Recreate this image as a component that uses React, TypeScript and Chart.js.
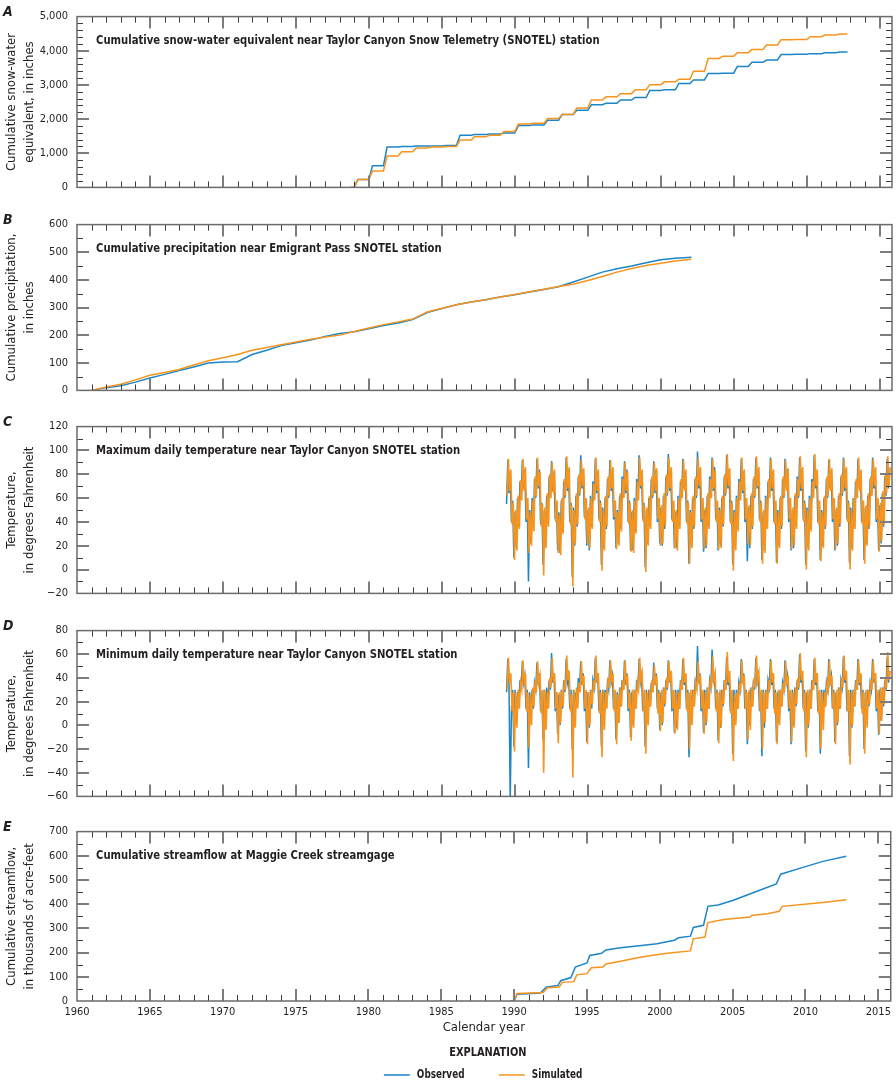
import React, { useEffect, useRef } from 'react';
import { Chart, registerables } from 'chart.js';

Chart.register(...registerables);

const FONT = "'DejaVu Sans Condensed', 'Liberation Sans Narrow', 'DejaVu Sans', sans-serif";
const TEXT = '#231f20';
const BLUE = '#1b85c8';
const ORANGE = '#f7941d';

// ---------- shared x axis ----------
const xMin = 1960;
const xMax = 2015.85;
const xTickYears = [1960, 1965, 1970, 1975, 1980, 1985, 1990, 1995, 2000, 2005, 2010, 2015];

// ---------- A: cumulative snow-water equivalent ----------
const sweStart = 1978.75;
const sweEnd = 2012.8;
const sweYears = [1979, 1980, 1981, 1982, 1983, 1984, 1985, 1986, 1987, 1988, 1989, 1990, 1991, 1992, 1993, 1994, 1995,
  1996, 1997, 1998, 1999, 2000, 2001, 2002, 2003, 2004, 2005, 2006, 2007, 2008, 2009, 2010, 2011, 2012];
const sweObs = [233, 637, 1180, 1200, 1210, 1215, 1225, 1527, 1545, 1560, 1590, 1810, 1830, 1967, 2136, 2257, 2420,
  2463, 2557, 2632, 2838, 2857, 3044, 3147, 3335, 3345, 3541, 3663, 3729, 3888, 3900, 3916, 3944, 3963];
const sweSim = [233, 480, 918, 1040, 1150, 1180, 1200, 1386, 1480, 1527, 1640, 1855, 1880, 2014, 2136, 2323, 2557,
  2651, 2745, 2857, 3007, 3091, 3166, 3400, 3775, 3841, 3944, 4038, 4169, 4319, 4330, 4413, 4460, 4488];
const sweTicks = [0, 1000, 2000, 3000, 4000, 5000];

// ---------- B: cumulative precipitation ----------
const precipYears = [1961, 1962, 1963, 1964, 1965, 1966, 1967, 1968, 1969, 1970, 1971, 1972, 1973, 1974, 1975, 1976,
  1977, 1978, 1979, 1980, 1981, 1982, 1983, 1984, 1985, 1986, 1987, 1988, 1989, 1990, 1991, 1992, 1993, 1994, 1995,
  1996, 1997, 1998, 1999, 2000, 2001, 2002.1];
const precipObs = [0, 10, 17, 30, 45, 58, 72, 85, 99, 103, 104, 130, 145, 162, 172, 182, 195, 206, 212, 223, 235, 244,
  256, 282, 296, 310, 320, 328, 338, 346, 356, 365, 375, 392, 410, 428, 440, 450, 462, 473, 478, 482];
const precipSim = [0, 12, 22, 38, 55, 65, 76, 92, 107, 118, 130, 145, 155, 165, 175, 185, 193, 200, 213, 226, 238, 248,
  258, 284, 297, 310, 320, 328, 338, 347, 357, 366, 376, 384, 398, 412, 428, 441, 452, 460, 468, 475];
const precipTicks = [0, 100, 200, 300, 400, 500, 600];

// ---------- C / D: daily temperature (monthly samples, first row starts June 1989) ----------
const tempFirstYear = 1989;
const tempFirstMonth = 5;
const obsSampleDay = 0.25; // fraction of the month at which the observed sample is taken
const simSampleDay = 0.75; // fraction of the month at which the simulated sample is taken
const maxTempObs = [
  [55, 92, 64, 82, 40, 58, 10],
  [48, 18, 60, 36, 74, 60, 92, 68, 84, 40, 58, -10],
  [50, 22, 60, 34, 76, 60, 93, 68, 84, 38, 56, 4],
  [50, 20, 62, 38, 78, 62, 91, 66, 82, 42, 56, 16],
  [48, 14, 58, 32, 74, 60, 94, 66, 84, 40, 56, -6],
  [52, 20, 62, 36, 78, 62, 96, 68, 84, 44, 58, 20],
  [50, 16, 62, 36, 74, 60, 93, 64, 82, 42, 58, 4],
  [52, 18, 60, 34, 76, 60, 92, 66, 84, 42, 56, 18],
  [50, 22, 62, 34, 78, 62, 91, 64, 84, 40, 58, 16],
  [48, 16, 60, 32, 76, 60, 96, 68, 82, 42, 56, 2],
  [50, 22, 60, 36, 76, 60, 91, 64, 84, 40, 58, 22],
  [52, 20, 62, 34, 78, 62, 97, 66, 84, 42, 56, 18],
  [48, 18, 62, 36, 74, 62, 93, 68, 82, 40, 58, 5],
  [50, 20, 60, 34, 76, 60, 99, 68, 84, 40, 58, 15],
  [50, 18, 62, 36, 78, 62, 94, 66, 86, 42, 56, 16],
  [52, 20, 60, 36, 78, 62, 96, 68, 84, 40, 58, 4],
  [50, 18, 62, 34, 76, 60, 93, 64, 82, 40, 58, 7],
  [52, 18, 62, 34, 76, 60, 94, 68, 84, 42, 58, 8],
  [48, 16, 62, 36, 74, 62, 94, 66, 82, 40, 56, 6],
  [50, 20, 60, 34, 76, 60, 93, 68, 84, 40, 58, 16],
  [50, 18, 62, 36, 78, 60, 94, 66, 84, 42, 58, 4],
  [52, 18, 62, 34, 76, 62, 96, 68, 82, 40, 56, 8],
  [50, 20, 60, 34, 76, 60, 92, 68, 84, 40, 58, 16],
  [50, 20, 62, 36, 78, 62, 94, 66, 84, 42, 58, 6],
  [52, 18, 60, 36, 74, 60, 93, 68, 82, 40, 56, 8],
  [52, 22, 62, 34, 76, 62, 94, 68, 84, 40, 58, 16],
  [54, 22, 64, 36, 78, 62, 93, 68, 84],
];
const maxTempSim = [
  [62, 93, 66, 84, 38, 56, 8],
  [50, 16, 62, 34, 75, 58, 93, 66, 86, 42, 60, 14],
  [48, 20, 58, 32, 78, 62, 94, 70, 82, 36, 55, -5],
  [52, 18, 64, 36, 80, 60, 90, 64, 84, 40, 58, 14],
  [46, 12, 60, 30, 76, 62, 95, 68, 86, 38, 54, -14],
  [50, 22, 64, 38, 80, 64, 92, 70, 85, 42, 60, 22],
  [52, 18, 60, 34, 72, 58, 94, 66, 84, 40, 56, -1],
  [50, 16, 62, 36, 78, 62, 92, 68, 86, 44, 58, 17],
  [48, 20, 64, 32, 76, 60, 90, 66, 82, 38, 56, 15],
  [50, 14, 58, 30, 74, 58, 94, 70, 84, 40, 54, -2],
  [52, 20, 62, 34, 78, 62, 90, 66, 85, 42, 60, 20],
  [54, 22, 64, 36, 80, 64, 94, 68, 86, 40, 58, 18],
  [50, 16, 60, 34, 76, 60, 92, 66, 84, 38, 56, 5],
  [48, 18, 62, 36, 78, 62, 94, 70, 86, 42, 60, 17],
  [52, 20, 64, 34, 76, 60, 93, 68, 84, 40, 58, 17],
  [50, 18, 62, 38, 80, 64, 97, 70, 85, 38, 56, -1],
  [48, 16, 60, 32, 74, 58, 94, 66, 84, 42, 60, 22],
  [54, 20, 64, 36, 78, 62, 95, 70, 86, 40, 56, 5],
  [50, 14, 60, 34, 76, 60, 93, 68, 84, 38, 58, 5],
  [48, 18, 62, 36, 78, 62, 92, 66, 85, 42, 60, 17],
  [52, 20, 64, 34, 76, 62, 95, 68, 86, 40, 56, 0],
  [50, 16, 60, 32, 74, 60, 97, 70, 84, 38, 58, 7],
  [48, 18, 62, 36, 78, 62, 93, 66, 85, 42, 60, 17],
  [52, 22, 64, 38, 80, 64, 93, 68, 86, 40, 56, 0],
  [50, 16, 60, 34, 76, 60, 94, 66, 84, 38, 58, 5],
  [54, 20, 64, 36, 78, 62, 93, 70, 86, 42, 60, 15],
  [56, 24, 66, 38, 80, 64, 95, 70, 86],
];
const maxTempTicks = [-20, 0, 20, 40, 60, 80, 100, 120];

const minTempObs = [
  [28, 56, 34, -65, 14, 30, -18],
  [30, 0, 28, 16, 38, 30, 54, 36, 42, 14, 30, -36],
  [28, 2, 30, 14, 36, 30, 53, 34, 44, 12, 28, -12],
  [30, -2, 32, 16, 38, 30, 61, 36, 44, 12, 28, -7],
  [26, 0, 30, 14, 38, 28, 56, 36, 42, 14, 30, -20],
  [30, 2, 28, 16, 40, 30, 54, 34, 44, 12, 28, -14],
  [28, -2, 30, 14, 38, 32, 57, 36, 44, 12, 30, -18],
  [30, 0, 30, 16, 36, 30, 55, 36, 42, 14, 28, -12],
  [28, 2, 32, 16, 38, 30, 55, 34, 44, 12, 30, -10],
  [28, 0, 30, 14, 38, 30, 56, 36, 42, 12, 28, -18],
  [30, 2, 30, 16, 36, 28, 53, 34, 44, 14, 30, -4],
  [28, 0, 32, 16, 38, 30, 55, 36, 44, 12, 28, -6],
  [30, -2, 30, 14, 38, 30, 56, 34, 42, 14, 30, -27],
  [28, 2, 30, 16, 36, 30, 67, 36, 44, 12, 28, -6],
  [30, 0, 32, 14, 38, 32, 64, 36, 44, 14, 30, -13],
  [28, -2, 30, 16, 38, 30, 58, 34, 42, 12, 28, -24],
  [30, 2, 30, 14, 36, 30, 56, 36, 44, 14, 30, -16],
  [28, 0, 32, 16, 38, 30, 57, 36, 42, 12, 28, -26],
  [30, -2, 30, 14, 38, 32, 56, 34, 44, 14, 30, -14],
  [28, 2, 30, 16, 36, 30, 55, 36, 42, 12, 28, -16],
  [30, 0, 32, 16, 38, 30, 60, 36, 44, 14, 30, -22],
  [28, -2, 30, 14, 38, 30, 56, 34, 44, 12, 28, -24],
  [30, 2, 30, 16, 36, 30, 56, 36, 42, 14, 30, -14],
  [28, 0, 32, 14, 38, 32, 58, 36, 44, 12, 28, -26],
  [30, -2, 30, 16, 38, 30, 56, 34, 42, 14, 30, -20],
  [28, 2, 30, 16, 36, 30, 56, 36, 44, 12, 28, -8],
  [30, 4, 32, 16, 38, 30, 58, 36, 44],
];
const minTempSim = [
  [30, 57, 36, 44, 12, 28, -22],
  [28, -2, 30, 14, 36, 30, 55, 34, 44, 12, 28, -19],
  [26, 0, 32, 16, 38, 28, 54, 36, 42, 10, 30, -40],
  [30, -4, 28, 14, 40, 32, 57, 36, 44, 14, 28, -15],
  [28, 2, 30, 16, 38, 30, 59, 38, 46, 12, 26, -44],
  [30, -2, 32, 14, 36, 28, 54, 34, 42, 14, 30, -16],
  [28, 0, 30, 18, 38, 30, 59, 36, 44, 10, 28, -27],
  [30, -4, 28, 14, 40, 32, 55, 36, 44, 12, 30, -16],
  [26, 2, 32, 16, 38, 30, 55, 34, 42, 14, 28, -13],
  [30, -2, 30, 14, 36, 30, 57, 38, 44, 12, 30, -24],
  [28, 0, 30, 16, 38, 28, 51, 34, 42, 10, 28, -5],
  [30, 2, 32, 18, 40, 32, 54, 36, 46, 14, 30, -7],
  [28, -4, 28, 14, 38, 30, 57, 36, 44, 12, 28, -20],
  [30, 0, 30, 16, 36, 30, 54, 34, 42, 14, 30, -7],
  [28, 2, 32, 14, 40, 32, 58, 38, 44, 12, 28, -15],
  [30, -2, 30, 18, 38, 30, 62, 36, 46, 10, 30, -30],
  [26, 0, 28, 14, 36, 28, 55, 34, 42, 14, 28, -12],
  [30, -4, 32, 16, 40, 32, 59, 38, 44, 12, 30, -20],
  [28, 2, 30, 14, 38, 30, 55, 36, 44, 10, 28, -16],
  [30, 0, 30, 16, 36, 28, 54, 34, 42, 14, 30, -14],
  [28, -2, 32, 18, 40, 32, 61, 38, 46, 12, 28, -27],
  [30, 0, 30, 14, 38, 30, 57, 36, 44, 10, 30, -20],
  [28, -4, 28, 16, 36, 30, 55, 34, 42, 14, 28, -16],
  [30, 2, 32, 14, 40, 32, 59, 38, 46, 12, 30, -33],
  [28, 0, 30, 16, 38, 30, 55, 36, 44, 10, 28, -24],
  [30, -2, 30, 18, 38, 30, 55, 36, 44, 14, 30, -7],
  [32, 4, 32, 18, 40, 32, 62, 38, 46],
];
const minTempTicks = [-60, -40, -20, 0, 20, 40, 60, 80];

// ---------- E: cumulative streamflow (thousands of acre-feet) ----------
const flowObsYears = [1989.75, 1990.0, 1990.2, 1991.0, 1991.8, 1992.2, 1993.0, 1993.2, 1993.9, 1994.2, 1995.0, 1995.2,
  1996.0, 1996.3, 1997.3, 1998.6, 1999.8, 2001.0, 2001.3, 2002.1, 2002.3, 2003.0, 2003.3, 2004.0, 2005.0, 2006.4,
  2008.0, 2008.3, 2009.6, 2011.2, 2012.8];
const flowObs = [0, 0, 28, 30, 33, 57, 64, 84, 97, 140, 157, 188, 197, 211, 220, 228, 237, 251, 261, 268, 304, 313,
  391, 397, 415, 447, 484, 524, 548, 577, 598];
const flowSimYears = [1989.75, 1990.0, 1990.2, 1992.0, 1992.3, 1993.1, 1993.3, 1994.1, 1994.3, 1995.0, 1995.3, 1996.1,
  1996.3, 1997.3, 1998.3, 1999.4, 2000.5, 2002.1, 2002.3, 2003.1, 2003.3, 2004.4, 2006.2, 2006.3, 2007.4, 2008.2,
  2008.4, 2011.2, 2012.8];
const flowSim = [0, 0, 31, 35, 55, 58, 77, 80, 108, 113, 137, 140, 153, 164, 177, 188, 197, 207, 257, 264, 324, 337,
  347, 353, 361, 371, 391, 407, 418];
const flowTicks = [0, 100, 200, 300, 400, 500, 600, 700];

const seriesLabels = ['Observed', 'Simulated'];

// ---------- builders ----------
type Pt = { x: number; y: number };
function stepPoints(start: number, years: number[], vals: number[], end: number): Pt[] {
  const pts: Pt[] = [{ x: start, y: 0 }];
  let prev = 0;
  years.forEach((yr, i) => {
    pts.push({ x: yr, y: prev });
    pts.push({ x: yr + 0.25, y: vals[i] });
    prev = vals[i];
  });
  pts.push({ x: end, y: prev });
  return pts;
}
function pairPoints(xs: number[], ys: number[]): Pt[] {
  return xs.map((x, i) => ({ x, y: ys[i] }));
}
function tempPoints(rows: number[][], day: number): Pt[] {
  const pts: Pt[] = [];
  rows.forEach((row, r) => {
    const year = tempFirstYear + r;
    const m0 = r === 0 ? tempFirstMonth : 0;
    row.forEach((v, k) => pts.push({ x: year + (m0 + k + day) / 12, y: v }));
  });
  return pts;
}

type PanelCfg = {
  letter: string; title: string; yTitle: string[];
  chartTop: number; chartBottom: number;
  yMin: number; yMax: number; yTicks: number[]; yMinor: number;
  obs: Pt[]; sim: Pt[]; obsWidth: number; simWidth: number; bottomPanel: boolean;
};

const panels: PanelCfg[] = [
  {
    letter: 'A', title: 'Cumulative snow-water equivalent near Taylor Canyon Snow Telemetry (SNOTEL) station',
    yTitle: ['Cumulative snow-water', 'equivalent, in inches'], chartTop: 13, chartBottom: 191,
    yMin: 0, yMax: 5000, yTicks: sweTicks, yMinor: 200,
    obs: stepPoints(sweStart, sweYears, sweObs, sweEnd), sim: stepPoints(sweStart, sweYears, sweSim, sweEnd),
    obsWidth: 1.5, simWidth: 1.5, bottomPanel: false,
  },
  {
    letter: 'B', title: 'Cumulative precipitation near Emigrant Pass SNOTEL station',
    yTitle: ['Cumulative precipitation,', 'in inches'], chartTop: 221, chartBottom: 394,
    yMin: 0, yMax: 600, yTicks: precipTicks, yMinor: 50,
    obs: pairPoints(precipYears, precipObs), sim: pairPoints(precipYears, precipSim),
    obsWidth: 1.5, simWidth: 1.5, bottomPanel: false,
  },
  {
    letter: 'C', title: 'Maximum daily temperature near Taylor Canyon SNOTEL station',
    yTitle: ['Temperature,', 'in degrees Fahrenheit'], chartTop: 423, chartBottom: 597,
    yMin: -20, yMax: 120, yTicks: maxTempTicks, yMinor: 10,
    obs: tempPoints(maxTempObs, obsSampleDay), sim: tempPoints(maxTempSim, simSampleDay),
    obsWidth: 1.5, simWidth: 1.6, bottomPanel: false,
  },
  {
    letter: 'D', title: 'Minimum daily temperature near Taylor Canyon SNOTEL station',
    yTitle: ['Temperature,', 'in degrees Fahrenheit'], chartTop: 627, chartBottom: 800,
    yMin: -60, yMax: 80, yTicks: minTempTicks, yMinor: 10,
    obs: tempPoints(minTempObs, obsSampleDay), sim: tempPoints(minTempSim, simSampleDay),
    obsWidth: 1.5, simWidth: 1.6, bottomPanel: false,
  },
  {
    letter: 'E', title: 'Cumulative streamflow at Maggie Creek streamgage',
    yTitle: ['Cumulative streamflow,', 'in thousands of acre-feet'], chartTop: 828, chartBottom: 1001,
    yMin: 0, yMax: 700, yTicks: flowTicks, yMinor: 50,
    obs: pairPoints(flowObsYears, flowObs), sim: pairPoints(flowSimYears, flowSim),
    obsWidth: 1.5, simWidth: 1.5, bottomPanel: true,
  },
];

// ---------- plugins ----------
function condensedText(ctx: CanvasRenderingContext2D, text: string, x: number, y: number, sx: number, align: 'left' | 'center') {
  const w = ctx.measureText(text).width * sx;
  ctx.save();
  ctx.translate(align === 'center' ? x - w / 2 : x, y);
  ctx.scale(sx, 1);
  ctx.textAlign = 'left';
  ctx.fillText(text, 0, 0);
  ctx.restore();
}

const panelTextPlugin = {
  id: 'panelText',
  afterDraw(chart: any, _a: any, opts: any) {
    const { ctx, chartArea } = chart;
    ctx.save();
    ctx.fillStyle = TEXT;
    ctx.textBaseline = 'middle';
    ctx.textAlign = 'left';
    ctx.font = `italic bold 14px ${FONT}`;
    ctx.fillText(opts.letter, 3, chartArea.top - 4);
    ctx.font = `bold 13px ${FONT}`;
    condensedText(ctx, opts.title, chartArea.left + 19, chartArea.top + 24, 0.86, 'left');
    if (opts.legend) {
      const cx = (chartArea.left + chartArea.right) / 2;
      ctx.font = `bold 13px ${FONT}`;
      condensedText(ctx, 'EXPLANATION', cx + 4, chartArea.bottom + 52, 0.84, 'center');
      const ly = chartArea.bottom + 74;
      ctx.font = `bold 12px ${FONT}`;
      const ds = chart.data.datasets;
      const items = [
        { x0: cx - 100, color: ds[0].borderColor, text: ds[0].label },
        { x0: cx + 15, color: ds[1].borderColor, text: ds[1].label },
      ];
      items.forEach((it) => {
        ctx.beginPath();
        ctx.strokeStyle = it.color;
        ctx.lineWidth = 1.5;
        ctx.moveTo(it.x0, ly);
        ctx.lineTo(it.x0 + 26, ly);
        ctx.stroke();
        condensedText(ctx, it.text, it.x0 + 33, ly, 0.82, 'left');
      });
    }
    ctx.restore();
  },
};

const frameTicksPlugin = {
  id: 'frameTicks',
  afterDatasetsDraw(chart: any, _a: any, opts: any) {
    const { ctx, chartArea: a } = chart;
    const xs = chart.scales.x;
    const ys = chart.scales.y;
    ctx.save();
    const seg = (x1: number, y1: number, x2: number, y2: number, major: boolean) => {
      ctx.beginPath();
      ctx.lineWidth = major ? 2 : 1;
      ctx.strokeStyle = major ? '#7d7d7d' : '#3d3d3d';
      ctx.moveTo(x1, y1);
      ctx.lineTo(x2, y2);
      ctx.stroke();
    };
    for (let yr = xTickYears[0]; yr <= xTickYears[xTickYears.length - 1]; yr++) {
      const major = xTickYears.includes(yr);
      const px0 = xs.getPixelForValue(yr);
      if (px0 <= a.left + 1 || px0 >= a.right - 1) continue;
      const px = major ? Math.round(px0) : Math.round(px0) + 0.5;
      const len = major ? 12 : 6;
      seg(px, a.top, px, a.top + len, major);
      seg(px, a.bottom, px, a.bottom - len, major);
    }
    for (let v = ys.min + opts.minor; v < ys.max - 1e-9; v += opts.minor) {
      const major = opts.ticks.includes(v);
      const py0 = ys.getPixelForValue(v);
      const py = major ? Math.round(py0) : Math.round(py0) + 0.5;
      const len = major ? 12 : 6;
      seg(a.left, py, a.left + len, py, major);
      seg(a.right, py, a.right - len, py, major);
    }
    ctx.lineWidth = 1.5;
    ctx.strokeStyle = '#6b6b6b';
    ctx.strokeRect(a.left, a.top, a.right - a.left, a.bottom - a.top);
    ctx.restore();
  },
};

const fmtY = (v: number) => (v < 0 ? '\u2212' + Math.abs(v).toLocaleString('en-US') : v.toLocaleString('en-US'));

function Panel({ p }: { p: PanelCfg }) {
  const ref = useRef<HTMLCanvasElement>(null);
  const canvasTop = Math.max(0, p.chartTop - 12);
  const canvasH = p.bottomPanel ? 1083 - canvasTop : p.chartBottom + 12 - canvasTop;

  useEffect(() => {
    const padding = { top: p.chartTop - canvasTop, bottom: p.bottomPanel ? 46 : 12, left: 0, right: 4 };
    const chart = new Chart(ref.current as HTMLCanvasElement, {
      type: 'line',
      data: {
        datasets: [
          { label: seriesLabels[0], data: p.obs, order: 1, borderColor: BLUE, backgroundColor: BLUE, borderWidth: p.obsWidth, pointRadius: 0, fill: false, tension: 0 },
          { label: seriesLabels[1], data: p.sim, order: 0, borderColor: ORANGE, backgroundColor: ORANGE, borderWidth: p.simWidth, pointRadius: 0, fill: false, tension: 0 },
        ],
      } as any,
      options: {
        animation: false,
        responsive: false,
        devicePixelRatio: 1,
        layout: { padding },
        scales: {
          x: {
            type: 'linear', min: xMin, max: xMax, display: p.bottomPanel,
            afterBuildTicks: (s: any) => { s.ticks = xTickYears.map((v) => ({ value: v })); },
            afterFit: (s: any) => { s.height = 36; },
            ticks: { font: { family: FONT, size: 11 }, color: TEXT, padding: 5, maxRotation: 0, autoSkip: false, callback: (v: any) => String(v) },
            grid: { display: false, drawTicks: false },
            border: { display: false },
            title: { display: true, text: 'Calendar year', font: { family: FONT, size: 13 }, color: TEXT, padding: { top: 0, bottom: 2 } },
          },
          y: {
            type: 'linear', min: p.yMin, max: p.yMax,
            afterBuildTicks: (s: any) => { s.ticks = p.yTicks.map((v) => ({ value: v })); },
            afterFit: (s: any) => { s.width = 77; },
            ticks: { font: { family: FONT, size: 11 }, color: TEXT, padding: 9, autoSkip: false, callback: (v: any) => fmtY(Number(v)) },
            grid: { display: false, drawTicks: false },
            border: { display: false },
            title: { display: true, text: p.yTitle, font: { family: FONT, size: 13, lineHeight: 1.35 }, color: TEXT, padding: { top: 3, bottom: 0 } },
          },
        },
        plugins: {
          legend: { display: false },
          tooltip: { enabled: false },
          panelText: { letter: p.letter, title: p.title, legend: p.bottomPanel },
          frameTicks: { minor: p.yMinor, ticks: p.yTicks },
        } as any,
      } as any,
      plugins: [panelTextPlugin, frameTicksPlugin],
    });
    for (let i = 0; i < 3; i++) {
      const a = chart.chartArea;
      const dt = p.chartTop - canvasTop - a.top;
      const db = a.bottom - (p.chartBottom - canvasTop);
      if (Math.abs(dt) < 0.5 && Math.abs(db) < 0.5) break;
      padding.top += dt;
      padding.bottom += db;
      (chart.options as any).layout.padding = { ...padding };
      chart.update();
    }
    return () => chart.destroy();
  }, []);

  return (
    <canvas
      ref={ref}
      width={896}
      height={canvasH}
      style={{ position: 'absolute', left: 0, top: canvasTop, width: 896, height: canvasH, display: 'block' }}
    />
  );
}

export default function App() {
  return (
    <div style={{ position: 'absolute', left: 0, top: 0, width: 896, height: 1083, background: '#fff' }}>
      {panels.map((p) => (
        <Panel key={p.letter} p={p} />
      ))}
    </div>
  );
}
